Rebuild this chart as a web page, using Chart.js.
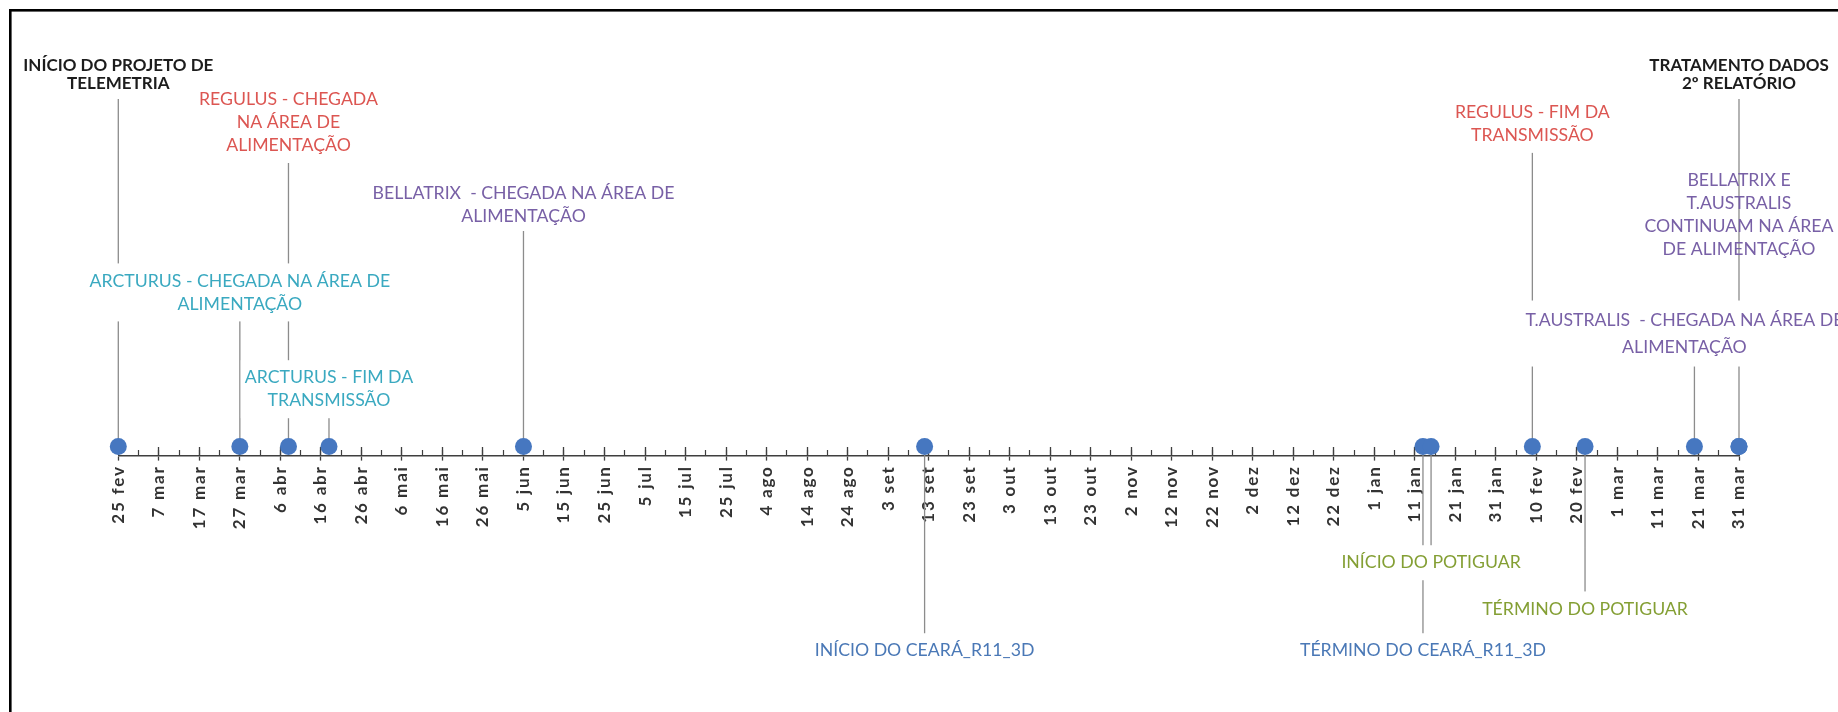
<!DOCTYPE html>
<html lang="pt-BR">
<head>
<meta charset="utf-8">
<title>Cronograma do projeto de telemetria</title>
<script src="https://cdn.jsdelivr.net/npm/chart.js@4.4.1/dist/chart.umd.min.js"></script>
<style>
  html, body { margin: 0; padding: 0; background: #fff; overflow: hidden; }
  canvas { display: block; }
</style>
</head>
<body>
<canvas id="timeline" width="1838" height="712"></canvas>
<script>
// ---- Data -------------------------------------------------------------
// Axis range (day 0 = project start)
const startDate = '2015-02-25';
const endDate = '2016-03-31';
const monthNames = ['jan', 'fev', 'mar', 'abr', 'mai', 'jun', 'jul', 'ago', 'set', 'out', 'nov', 'dez'];

// Timeline events
const eventDates = [
  '2015-02-25', '2015-04-08', '2015-06-05', '2015-03-27', '2015-04-18',
  '2015-09-12', '2016-01-13', '2016-01-15', '2016-02-22', '2016-02-09',
  '2016-03-20', '2016-03-31', '2016-03-31'
];
// Height of each event's stem (positive = above the axis, negative = below)
const eventLevels = [79, 65, 49, 29, 7, -43, -43, -23, -33.5, 67.3, 19.2, 41.5, 79];
const eventLabels = [
  'INÍCIO DO PROJETO DE\nTELEMETRIA',
  'REGULUS - CHEGADA\nNA ÁREA DE\nALIMENTAÇÃO',
  'BELLATRIX  - CHEGADA NA ÁREA DE\nALIMENTAÇÃO',
  'ARCTURUS - CHEGADA NA ÁREA DE\nALIMENTAÇÃO',
  'ARCTURUS - FIM DA\nTRANSMISSÃO',
  'INÍCIO DO CEARÁ_R11_3D',
  'TÉRMINO DO CEARÁ_R11_3D',
  'INÍCIO DO POTIGUAR',
  'TÉRMINO DO POTIGUAR',
  'REGULUS - FIM DA\nTRANSMISSÃO',
  'T.AUSTRALIS  - CHEGADA NA ÁREA DE\nALIMENTAÇÃO',
  'BELLATRIX E\nT.AUSTRALIS\nCONTINUAM NA ÁREA\nDE ALIMENTAÇÃO',
  'TRATAMENTO DADOS\n2º RELATÓRIO'
];
const eventGroups = [
  'marco', 'regulus', 'bellatrix', 'arcturus', 'arcturus',
  'ceara', 'ceara', 'potiguar', 'potiguar', 'regulus',
  'australis', 'bellatrix', 'marco'
];

// ---- Styles -----------------------------------------------------------
const groupStyle = {
  marco:     { color: '#1c1c1c', font: 'bold 17px Lato', lineHeight: 18, box: false, dx: 0 },
  regulus:   { color: '#dc5652', font: '17.7px Lato', lineHeight: 23, box: true, dx: 0 },
  arcturus:  { color: '#3aa9c0', font: '17.7px Lato', lineHeight: 23, box: true, dx: 0 },
  bellatrix: { color: '#7860a6', font: '17.7px Lato', lineHeight: 23, box: false, dx: 0 },
  australis: { color: '#7860a6', font: '17.7px Lato', lineHeight: 27, box: true, dx: -10 },
  ceara:     { color: '#4a78b6', font: '17.7px Lato', lineHeight: 23, box: true, dx: 0 },
  potiguar:  { color: '#849f34', font: '17.7px Lato', lineHeight: 23, box: true, dx: 0 }
};
const markerColor = '#4677c0';
const stemColor = '#8c8c8c';
const axisColor = '#3f3f3f';
const labelGap = 15;
const tickSpacing = '1.8px';

// ---- Helpers ----------------------------------------------------------
const DAY = 86400000;
const t0 = Date.parse(startDate + 'T00:00:00Z');
const dayOf = s => Math.round((Date.parse(s + 'T00:00:00Z') - t0) / DAY);
const spanDays = dayOf(endDate);
const eventDays = eventDates.map(dayOf);

const markerPoints = eventDays.map(x => ({ x, y: 0 }));
const stemPoints = [];
eventDays.forEach((x, i) => {
  stemPoints.push({ x, y: 0 }, { x, y: eventLevels[i] }, { x, y: null });
});

const formatDay = v => {
  const d = new Date(t0 + v * DAY);
  return d.getUTCDate() + ' ' + monthNames[d.getUTCMonth()];
};

// White card behind the chart with a heavy frame
const framePlugin = {
  id: 'frame',
  beforeDraw(chart) {
    const { ctx, width, height } = chart;
    ctx.save();
    ctx.fillStyle = '#ffffff';
    ctx.fillRect(0, 0, width, height);
    ctx.strokeStyle = '#000000';
    ctx.lineWidth = 2.6;
    ctx.strokeRect(10.3, 10.3, width + 40, height + 40);
    ctx.restore();
    // date labels on the axis are drawn slightly tracked out
    ctx.letterSpacing = tickSpacing;
  },
  beforeDatasetsDraw(chart) {
    chart.ctx.letterSpacing = '0px';
  }
};

// Event captions at the end of each stem
const captionPlugin = {
  id: 'captions',
  afterDatasetsDraw(chart) {
    const { ctx } = chart;
    const xS = chart.scales.x;
    const yS = chart.scales.y;
    ctx.save();
    eventLabels.forEach((text, i) => {
      const st = groupStyle[eventGroups[i]];
      const lines = text.split('\n');
      const cx = xS.getPixelForValue(eventDays[i]) + st.dx;
      const yEnd = yS.getPixelForValue(eventLevels[i]);
      const up = eventLevels[i] > 0;
      const lh = st.lineHeight;
      const first = up ? yEnd - labelGap - (lines.length - 1) * lh : yEnd + labelGap;
      ctx.font = st.font;
      const w = Math.max(...lines.map(l => ctx.measureText(l).width));
      if (st.box) {
        ctx.fillStyle = '#ffffff';
        ctx.fillRect(cx - w / 2 - 4, first - lh / 2 - 6, w + 8, lines.length * lh + 12);
      }
      ctx.fillStyle = st.color;
      ctx.textAlign = 'center';
      ctx.textBaseline = 'middle';
      lines.forEach((l, k) => ctx.fillText(l, cx, first + k * lh));
    });
    ctx.restore();
  }
};

const axisAt = { y: -2 };

new Chart(document.getElementById('timeline'), {
  type: 'scatter',
  data: {
    datasets: [
      {
        label: 'Eventos',
        data: markerPoints,
        pointRadius: 8.5,
        pointHoverRadius: 8.5,
        pointBackgroundColor: markerColor,
        pointBorderWidth: 0,
        clip: false
      },
      {
        label: 'Hastes',
        data: stemPoints,
        showLine: true,
        spanGaps: false,
        pointRadius: 0,
        borderColor: stemColor,
        borderWidth: 1.3,
        clip: false
      }
    ]
  },
  options: {
    responsive: false,
    animation: false,
    events: [],
    layout: { padding: { left: 118.3, right: 99, top: 10, bottom: 0 } },
    plugins: { legend: { display: false }, tooltip: { enabled: false } },
    scales: {
      y: { type: 'linear', min: -58.4, max: 99.2, display: false },
      x: {
        type: 'linear', min: 0, max: spanDays, position: axisAt, display: true,
        grid: { drawOnChartArea: false, drawTicks: true, tickLength: 4, tickColor: axisColor, tickWidth: 1.3 },
        border: { display: true, color: axisColor, width: 1.6 },
        ticks: {
          stepSize: 10, autoSkip: false, minRotation: 90, maxRotation: 90, padding: 6,
          color: '#333333', font: { family: 'Lato', size: 17, weight: 'bold' },
          callback: formatDay
        }
      },
      xMinor: {
        type: 'linear', min: 0, max: spanDays, position: axisAt, display: true,
        grid: { drawOnChartArea: false, drawTicks: true, tickLength: -5, tickColor: axisColor, tickWidth: 1.2 },
        border: { display: false },
        ticks: { stepSize: 5, display: false }
      },
      xMajorUp: {
        type: 'linear', min: 0, max: spanDays, position: axisAt, display: true,
        grid: { drawOnChartArea: false, drawTicks: true, tickLength: -8, tickColor: axisColor, tickWidth: 1.3 },
        border: { display: false },
        ticks: { stepSize: 10, display: false }
      }
    }
  },
  plugins: [framePlugin, captionPlugin]
});
</script>
</body>
</html>
